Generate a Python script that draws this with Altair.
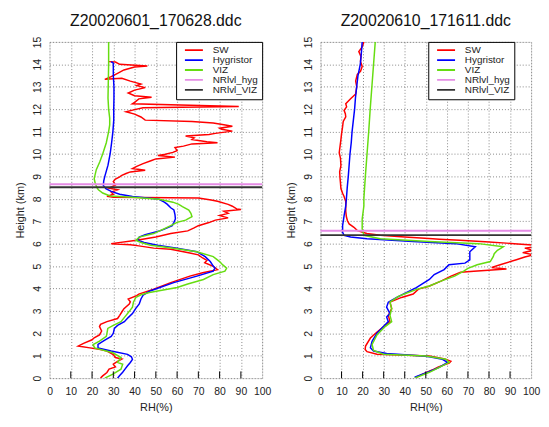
import altair as alt
import pandas as pd

FONT = "Liberation Sans"
SERIES = ["SW", "Hygristor", "VIZ", "NRlvl_hyg", "NRlvl_VIZ"]
COLORS = ["#ff0000", "#0000ff", "#66dd11", "#e58be5", "#333333"]
X_TICKS = [0, 10, 20, 30, 40, 50, 60, 70, 80, 90, 100]
Y_TICKS = list(range(0, 16))

# ---------- left panel: Z20020601_170628.ddc ----------
L_TITLE = "Z20020601_170628.ddc"
L_SW_H = [14.12, 14.1, 14.0, 13.93, 13.88, 13.75, 13.6, 13.45, 13.33, 13.38, 13.25, 13.12, 13.05, 12.96, 12.85, 12.72,
          12.6, 12.53, 12.46, 12.3, 12.24, 12.12, 12.06, 11.98, 11.88, 11.78, 11.65, 11.51, 11.45, 11.38, 11.3, 11.24,
          11.15, 11.1, 11.02, 10.92, 10.87, 10.8, 10.72, 10.65, 10.55, 10.5, 10.45, 10.35, 10.29, 10.15, 10.07, 9.98,
          9.93, 9.86, 9.78, 9.71, 9.57, 9.45, 9.35, 9.27, 9.2, 9.13, 9.05, 8.98, 8.88, 8.77, 8.62, 8.47, 8.4, 8.3,
          8.2, 8.11, 8.07, 8.04, 7.95, 7.89, 7.75, 7.67, 7.55, 7.52, 7.45, 7.35, 7.25, 7.15, 7.05, 6.94, 6.8, 6.7,
          6.57, 6.45, 6.3, 6.15, 6.0, 5.95, 5.9, 5.8, 5.75, 5.58, 5.5, 5.36, 5.25, 5.15, 4.99, 4.84, 4.7, 4.55, 4.26,
          3.97, 3.75, 3.68, 3.53, 3.4, 3.31, 3.1, 2.95, 2.8, 2.66, 2.52, 2.4, 2.3, 2.1, 1.93, 1.8, 1.71, 1.55, 1.43,
          1.35, 1.28, 1.21, 1.05, 0.92, 0.85, 0.75, 0.62, 0.5, 0.4, 0.25, 0.1, 0.0]
L_SW_RH = [28, 31, 33, 46, 40, 35, 32, 29, 26, 34, 38, 43, 41, 45, 40, 37,
           40, 48, 42, 40, 39, 89, 44, 40, 36, 40, 43, 45, 67, 77, 82, 86,
           80, 81, 86, 78, 75, 64, 68, 67, 74, 79, 67, 63, 59, 60, 58, 54,
           51, 59, 50, 48, 44, 41, 39, 45, 38, 36, 34, 33, 31, 30, 31, 28, 32, 29,
           30, 27, 30, 70, 76, 79, 84, 86, 88, 90, 82, 84, 80, 84, 78, 75, 70, 68,
           65, 57, 50, 41, 29, 38, 42, 49, 57, 66, 70, 72, 74, 73, 77, 79, 72, 66, 57,
           49, 42, 41, 37, 38, 37.5, 35, 34, 33, 32, 27, 24, 23.5, 24.5, 23.5, 21, 20, 16, 13.5,
           19, 24, 27, 30, 31, 34, 32, 30, 31, 28, 27, 25, 24]

L_HYG_H = [14.12, 14.05, 13.5, 13.0, 12.5, 12.0, 11.5, 11.0, 10.5, 10.0, 9.5, 9.0, 8.8, 8.6, 8.45, 8.33, 8.2,
           8.1, 8.04, 7.98, 7.85, 7.76, 7.6, 7.5, 7.3, 7.1, 6.95, 6.8, 6.65, 6.58, 6.5, 6.4, 6.29, 6.15, 6.05,
           5.93, 5.79, 5.64, 5.42, 5.2, 5.0, 4.91, 4.77, 4.55, 4.26, 3.9, 3.82, 3.7, 3.53, 3.31, 3.1, 2.88, 2.7,
           2.52, 2.35, 2.22, 2.0, 1.86, 1.7, 1.5, 1.35, 1.21, 1.06, 0.95, 0.84, 0.7, 0.55, 0.4, 0.26, 0.12, 0.0]
L_HYG_RH = [29, 30, 30, 30.3, 30.3, 30.2, 30.2, 29.8, 29.2, 28.5, 27.5, 26, 25.5, 25.3, 26.5, 29, 33,
            39, 46, 51.5, 54, 55.3, 57, 58.5, 59, 59.2, 58.5, 57.7, 54, 52.2, 49, 45, 42.2, 41.4, 44.5,
            50.7, 60, 69.3, 73.2, 75.6, 77, 77.8, 77, 69.3, 58.4, 47.6, 46, 44, 43, 42.2, 40.5, 39, 37,
            35.2, 32, 30.5, 30, 29, 26, 22.8, 22.8, 29, 36.7, 38.5, 39, 38, 36.7, 35.5, 34.4, 33, 32]

L_VIZ_H = [15.0, 14.0, 13.0, 12.5, 12.0, 11.6, 11.3, 11.0, 10.5, 10.0, 9.64, 9.3, 8.9, 8.69, 8.5, 8.4, 8.26,
           8.13, 8.07, 7.98, 7.85, 7.75, 7.65, 7.5, 7.35, 7.2, 7.05, 6.95, 6.8, 6.66, 6.45, 6.29, 6.15, 6.05,
           5.93, 5.79, 5.64, 5.42, 5.2, 5.05, 4.91, 4.77, 4.62, 4.4, 4.2, 4.04, 3.82, 3.72, 3.6, 3.4, 3.17,
           2.98, 2.8, 2.52, 2.35, 2.22, 2.0, 1.86, 1.65, 1.5, 1.35, 1.13, 0.92, 0.7, 0.62, 0.4, 0.18, 0.0]
L_VIZ_RH = [27.8, 27.8, 27.6, 27.5, 27.8, 28.3, 28.3, 27.8, 26.7, 25, 23.6, 22, 21, 21.5, 22.3, 23, 25,
            28.5, 39, 51.5, 58, 60.8, 62.5, 65.5, 66.5, 67, 64, 60, 57, 53.8, 49, 42.2, 40.6, 43,
            47.6, 58.4, 69.3, 77, 80, 81.5, 83.3, 82.5, 77, 72.4, 65, 60, 47, 43, 40.6, 39.5, 39,
            37.5, 36, 33.6, 30, 27.4, 27, 26.7, 23.5, 20.5, 21.2, 29.8, 33.6, 32, 34.4, 33.6, 29.8, 26]

L_NR = [8.65, 8.52]   # NRlvl_hyg, NRlvl_VIZ

# ---------- right panel: Z20020610_171611.ddc ----------
R_TITLE = "Z20020610_171611.ddc"
R_SW_H = [15.0, 14.78, 14.57, 14.35, 14.13, 13.9, 13.69, 13.55, 13.26, 13.0, 12.68, 12.46, 12.24, 12.1, 11.95,
          11.8, 11.66, 11.45, 11.22, 10.9, 10.64, 10.35, 10.06, 9.8, 9.48, 9.2, 8.9, 8.7, 8.46, 8.25, 8.1, 7.88,
          7.68, 7.44, 7.2, 7.02, 6.88, 6.73, 6.58, 6.45, 6.37, 6.3, 6.22, 6.2, 6.15, 6.08, 6.0, 5.93, 5.85, 5.8,
          5.7, 5.6, 5.5, 5.4, 5.28, 5.06, 4.94, 4.87, 4.77, 4.72, 4.55, 4.33, 4.1, 3.97, 3.75, 3.6, 3.39, 3.1,
          2.8, 2.52, 2.3, 2.07, 1.79, 1.43, 1.28, 1.18, 1.07, 0.99, 0.85, 0.75, 0.67, 0.5, 0.36, 0.2, 0.04]
R_SW_RH = [20.6, 19.8, 18.2, 19.2, 19, 19.8, 19, 17.5, 16.7, 17.2, 16.7, 14.3, 12, 12.4, 11.2,
           11.8, 12, 10.8, 10.5, 10, 9.7, 9.3, 8.9, 9.5, 9.7, 9.1, 9.3, 9.5, 9.7, 10.5, 11.2, 12,
           12, 12, 12.3, 12.8, 13.6, 15.9, 17.5, 22, 28.4, 40, 53.3, 56.4, 66, 78.2, 92, 101, 102, 97,
           101, 96, 101, 97, 93, 85.3, 81.3, 88.3, 72.8, 66.5, 62, 57.2, 51.5, 46.5, 44, 38.5, 33, 33.8,
           32.2, 33, 30, 27, 23.7, 21.4, 21.2, 22.1, 26.8, 51.7, 59, 61.9, 61.1, 56, 53, 49, 45.5]

R_HYG_H = [15.0, 14.5, 14.0, 13.5, 13.0, 12.5, 12.0, 11.5, 11.0, 10.5, 10.0, 9.5, 9.0, 8.5, 8.0, 7.68, 7.24,
           6.8, 6.5, 6.37, 6.3, 6.22, 6.1, 6.0, 5.86, 5.64, 5.28, 5.13, 5.06, 4.84, 4.62, 4.4, 4.04, 3.75, 3.6,
           3.39, 3.17, 2.88, 2.73, 2.52, 2.3, 2.0, 1.64, 1.35, 1.21, 1.1, 0.99, 0.95, 0.84, 0.7, 0.48, 0.26, 0.04]
R_HYG_RH = [19.8, 19.4, 18.9, 17.8, 17.2, 16.6, 16.2, 15.6, 15.0, 14.6, 14.0, 13.6, 13.2, 12.7, 12.3, 12, 11.2,
            10.5, 10.5, 11.2, 14.3, 22.1, 43.9, 64.2, 73.5, 70.9, 70.9, 68.6, 61, 58.7, 54, 51.7, 45.5, 39.3, 36.2,
            32.2, 31.4, 33, 31.4, 32.2, 29.9, 26.8, 24.5, 23.7, 25.2, 31.4, 48.6, 51.7, 57.9, 60.3, 56.4, 50.9, 44.7]

R_VIZ_H = [15.0, 14.0, 13.0, 12.0, 11.0, 10.0, 9.0, 8.0, 7.68, 7.1, 6.66, 6.37, 6.22, 6.1, 6.0, 5.86, 5.7,
           5.55, 5.42, 5.2, 5.06, 4.9, 4.77, 4.55, 4.33, 4.11, 3.97, 3.8, 3.65, 3.39, 3.1, 2.8, 2.52, 2.3, 1.93,
           1.5, 1.24, 1.07, 0.99, 0.84, 0.7, 0.48, 0.26, 0.0]
R_VIZ_RH = [26, 25.2, 24.4, 23.6, 22.9, 22.1, 21.3, 20.6, 20.6, 19.8, 19.8, 20.6, 28.4, 51.7, 75.1, 86.8, 84,
            82.5, 82, 80.6, 74.4, 70, 68, 63.7, 57.2, 51.7, 46, 41, 37, 33, 33.8, 33, 33.8, 30.7, 26.8,
            24.5, 25.2, 29.9, 50.1, 59.5, 61.1, 56.4, 51.7, 44.7]

R_NR = [6.58, 6.38]   # NRlvl_hyg, NRlvl_VIZ

TICK_LEN = [0, 0.3]   # bottom inner tick marks, from 0 to 0.3 km


def profiles(sw, hyg, viz):
    rows = []
    for name, (hs, rs) in zip(SERIES[:3], [sw, hyg, viz]):
        for i, (h, r) in enumerate(zip(hs, rs)):
            rows.append({"series": name, "h": h, "rh": r, "i": i})
    return pd.DataFrame(rows)


X_AXIS = alt.Axis(values=X_TICKS, title="RH(%)", grid=True, gridDash=[1, 2],
                  gridColor="#888888", domain=False, ticks=False, labelOverlap=False,
                  labelFlush=False, labelBound=False,
                  labelFont=FONT, labelFontSize=10.5, labelColor="#222222",
                  labelPadding=9, titleFont=FONT, titleFontSize=11,
                  titleFontWeight="normal", titleColor="#222222", titlePadding=4)
Y_AXIS = alt.Axis(values=Y_TICKS, title="Height (km)", grid=True, gridDash=[1, 2],
                  gridColor="#888888", domain=False, ticks=False, labelAngle=270,
                  labelOverlap=False, labelSeparation=0, labelBound=False, labelFlush=False,
                  labelFont=FONT, labelFontSize=10.5, labelColor="#222222",
                  labelPadding=7, titleFont=FONT, titleFontSize=11,
                  titleFontWeight="normal", titleColor="#222222", titlePadding=7)
X_SCALE = alt.Scale(domain=[0, 100], nice=False, zero=False)
Y_SCALE = alt.Scale(domain=[0, 15], nice=False, zero=False)


def panel(title, df, nr, legend_x, legend_y, width):
    color = alt.Color(
        "series:N",
        scale=alt.Scale(domain=SERIES, range=COLORS),
        legend=alt.Legend(
            title=None, orient="none", legendX=legend_x, legendY=legend_y,
            symbolType="stroke", symbolSize=330, symbolStrokeWidth=1.8, symbolOffset=4,
            labelFont=FONT, labelFontSize=10, labelColor="#222222",
            clipHeight=8.8, rowPadding=-1.2, labelOffset=9,
            fillColor="white", strokeColor="black", padding=4,
        ),
    )
    lines = alt.Chart(df).mark_line(strokeWidth=1.5, clip=True).encode(
        x=alt.X("rh:Q", scale=X_SCALE, axis=X_AXIS),
        y=alt.Y("h:Q", scale=Y_SCALE, axis=Y_AXIS),
        color=color, order="i:Q")
    nr_df = pd.DataFrame({"series": SERIES[3:], "h": nr})
    rules = alt.Chart(nr_df).mark_rule(strokeWidth=2).encode(
        y=alt.Y("h:Q", scale=Y_SCALE, axis=Y_AXIS), color=alt.Color("series:N"))
    tick_df = pd.DataFrame({"rh": X_TICKS[1:-1], "y0": TICK_LEN[0], "y1": TICK_LEN[1]})
    ticks = alt.Chart(tick_df).mark_rule(color="black", strokeWidth=1).encode(
        x=alt.X("rh:Q", scale=X_SCALE, axis=X_AXIS),
        y=alt.Y("y0:Q", scale=Y_SCALE, axis=Y_AXIS), y2="y1:Q")
    return alt.layer(lines, rules, ticks).properties(
        width=width, height=340,
        title=alt.TitleParams(title, font=FONT, fontSize=16, fontWeight="normal",
                              color="#111111", frame="group", anchor="middle", offset=7),
    )


left = panel(L_TITLE, profiles((L_SW_H, L_SW_RH), (L_HYG_H, L_HYG_RH), (L_VIZ_H, L_VIZ_RH)),
             L_NR, 128, 0, 215)
right = panel(R_TITLE, profiles((R_SW_H, R_SW_RH), (R_HYG_H, R_HYG_RH), (R_VIZ_H, R_VIZ_RH)),
              R_NR, 109, 0, 213)

chart = alt.hconcat(left, right, spacing=59, bounds="flush").resolve_legend(
    color="independent").resolve_scale(color="shared").configure_view(
    stroke="#111111", strokeWidth=1.6).configure(
    background="white", padding={"left": 6, "top": 2, "right": 0, "bottom": 0})

chart.save("out.html", embed_options={"renderer": "svg", "actions": False})
